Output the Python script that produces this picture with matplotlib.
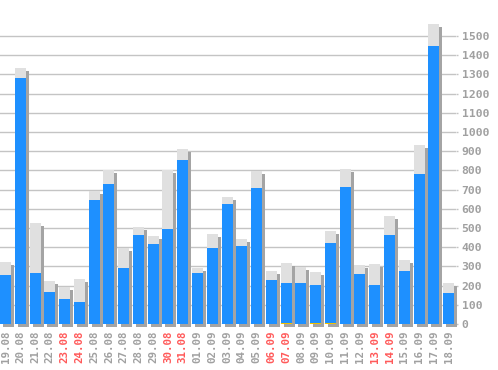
import matplotlib
matplotlib.use("Agg")
import matplotlib.pyplot as plt
import numpy as np

dates = ["19.08","20.08","21.08","22.08","23.08","24.08","25.08","26.08","27.08","28.08",
         "29.08","30.08","31.08","01.09","02.09","03.09","04.09","05.09","06.09","07.09",
         "08.09","09.09","10.09","11.09","12.09","13.09","14.09","15.09","16.09","17.09","18.09"]
weekend = ["23.08","24.08","30.08","31.08","06.09","07.09","13.09","14.09"]
blue_vals = [256,1281,267,168,130,115,648,727,293,465,
             418,497,852,267,397,627,408,706,230,214,
             214,204,423,716,261,204,463,276,781,1448,162]
total_vals = [324,1333,526,226,194,236,695,800,396,507,
              460,800,910,293,470,659,444,795,277,319,
              298,272,486,805,308,314,562,333,932,1563,214]
orange_vals = [0,0,0,0,0,0,0,0,0,0,
               0,0,0,0,0,0,0,0,0,6,
               0,6,6,0,0,0,0,0,0,0,0]
yticks = list(range(0, 1600, 100))

W, H = 498, 370
fig = plt.figure(figsize=(W/100, H/100), dpi=100)
ax_w = 456
ax = fig.add_axes([0, (H-324)/H, ax_w/W, 324/H])
px_per_unit = 14.77  # x pixels per category
ymax = 324/0.192
ax.set_xlim(0, ax_w/px_per_unit)
ax.set_ylim(0, ymax)

x = np.arange(len(dates))
w = 11/px_per_unit
dx = 3/px_per_unit
dy = 3/0.192

ax.set_axisbelow(True)
ax.yaxis.grid(True, color="#c4c4c4", linewidth=1)
ax.xaxis.grid(False)

blue = np.array(blue_vals)
total = np.array(total_vals)
orange = np.array(orange_vals)

ax.bar(x+dx, total, bottom=-dy, width=w, align="edge", color="#a4a4a4", clip_on=False, zorder=2)
ax.bar(x, blue, width=w, align="edge", color="#1e90ff", clip_on=False, zorder=3)
ax.bar(x, total-blue, bottom=blue, width=w, align="edge", color="#e0e0e0", clip_on=False, zorder=3)
ax.bar(x, orange, width=w, align="edge", color="#f0c000", clip_on=False, zorder=4)

for s in ax.spines.values():
    s.set_visible(False)

ax.set_xticks(x + w/2)
ax.set_xticklabels(dates, rotation=90, family="DejaVu Sans Mono", fontsize=7.8, fontweight="bold")
for lbl, d in zip(ax.get_xticklabels(), dates):
    lbl.set_color("#ff5a5a" if d in weekend else "#a0a0a0")
ax.tick_params(axis="x", length=0, pad=4.5)

ax.yaxis.tick_right()
ax.set_yticks(yticks)
ax.set_yticklabels([str(v) for v in yticks], family="DejaVu Sans Mono", fontsize=8.2,
                   fontweight="bold", color="#a0a0a0")
ax.tick_params(axis="y", length=1.5, width=1, color="#c4c4c4", pad=2.5)

fig.savefig("out.png", dpi=100, facecolor="white")
